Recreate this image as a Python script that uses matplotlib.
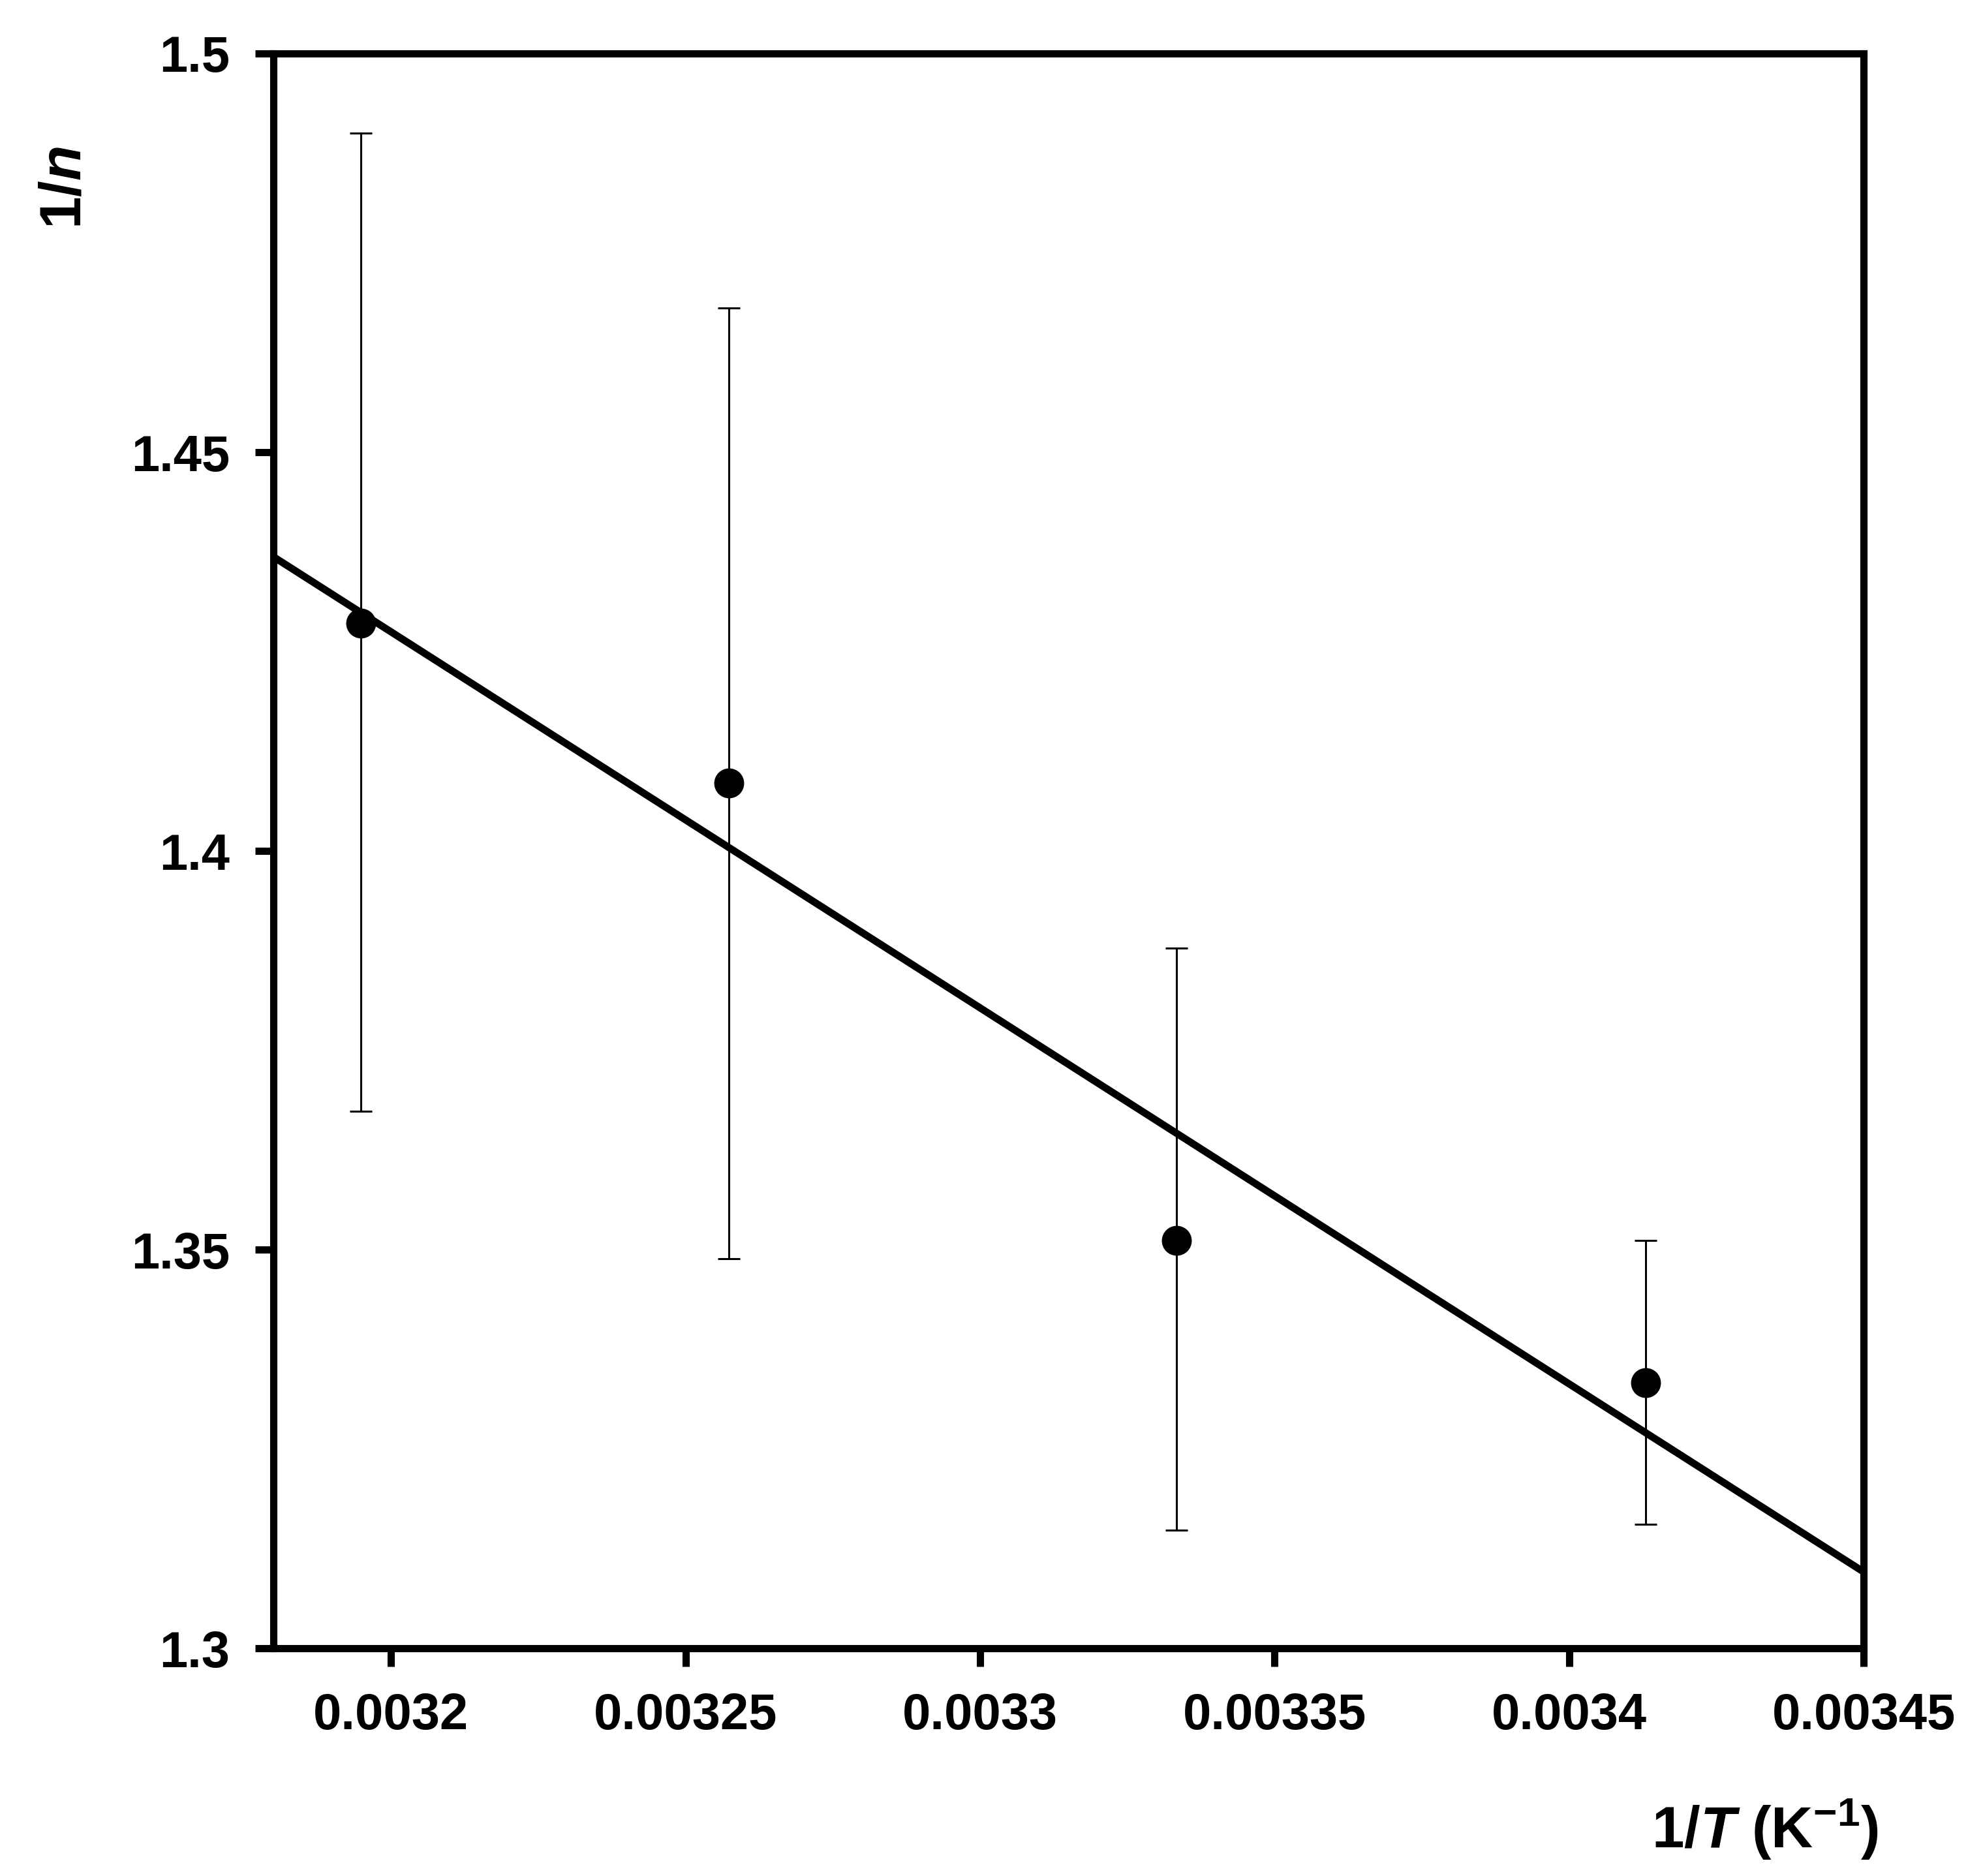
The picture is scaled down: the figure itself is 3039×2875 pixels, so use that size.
import matplotlib
matplotlib.use("Agg")
import matplotlib.pyplot as plt

plt.rcParams["font.family"] = ["Liberation Sans", "DejaVu Sans"]
plt.rcParams["mathtext.fontset"] = "custom"
plt.rcParams["mathtext.rm"] = "Liberation Sans:bold"
plt.rcParams["mathtext.it"] = "Liberation Sans:bold:italic"
plt.rcParams["mathtext.bf"] = "Liberation Sans:bold"
plt.rcParams["axes.unicode_minus"] = False

# data
inv_T = [0.0031949, 0.0032573, 0.0033333, 0.0034130]
inv_n = [1.4286, 1.4085, 1.3512, 1.3333]
err_hi = [1.4900, 1.4681, 1.3878, 1.3512]
err_lo = [1.3674, 1.3489, 1.3148, 1.3156]
fit_x = [0.00318, 0.00345]
fit_y = [1.4369, 1.3096]

yerr = [[v - lo for v, lo in zip(inv_n, err_lo)],
        [hi - v for v, hi in zip(inv_n, err_hi)]]

fig = plt.figure(figsize=(30.39, 28.75), dpi=100)
ax = fig.add_axes([0.1378, 0.1213, 0.8020, 0.8502])

ax.plot(fit_x, fit_y, color="black", lw=8, zorder=2)
ax.errorbar(inv_T, inv_n, yerr=yerr, fmt="o", color="black", ms=32,
            elinewidth=2.2, capsize=12, capthick=2.2, zorder=3)

ax.set_xlim(0.00318, 0.00345)
ax.set_ylim(1.3, 1.5)
ax.set_xticks([0.0032, 0.00325, 0.0033, 0.00335, 0.0034, 0.00345])
ax.set_xticklabels(["0.0032", "0.00325", "0.0033", "0.00335", "0.0034", "0.00345"])
ax.set_yticks([1.3, 1.35, 1.4, 1.45, 1.5])
ax.set_yticklabels(["1.3", "1.35", "1.4", "1.45", "1.5"])
for s in ax.spines.values():
    s.set_linewidth(8)
ax.tick_params(width=8, length=20, labelsize=56, pad=28)
for lab in ax.get_xticklabels() + ax.get_yticklabels():
    lab.set_fontweight("bold")

fig.text(0.033, 0.90, r"1/$\mathit{n}$", rotation=90, fontsize=64,
         fontweight="bold", ha="center", va="center")
fig.text(0.89, 0.025, r"1/$\mathit{T}$ (K$^{\mathbf{-1}}$)", fontsize=64,
         fontweight="bold", ha="center", va="center")

fig.savefig("out.png", dpi=100)
